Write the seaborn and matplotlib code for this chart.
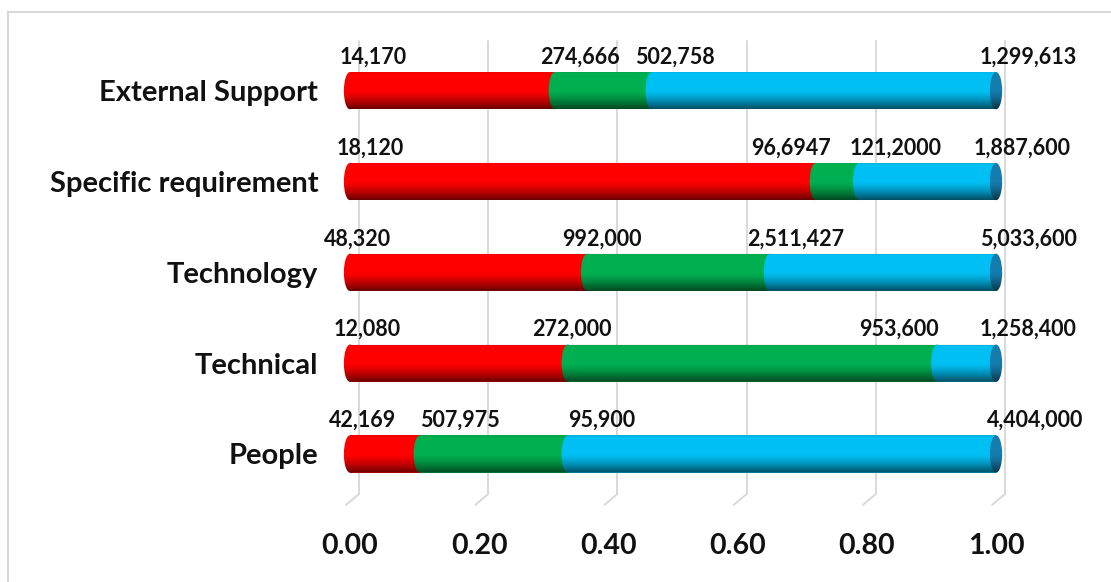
import numpy as np
import pandas as pd
import seaborn as sns
import matplotlib
matplotlib.use("Agg")
import matplotlib.pyplot as plt
from matplotlib.patches import Ellipse, PathPatch, Rectangle
from matplotlib.path import Path

# data (shares of each bar)
categories = ["External Support", "Specific requirement", "Technology", "Technical", "People"]
red_share = [0.317, 0.721, 0.367, 0.337, 0.108]
green_share = [0.150, 0.067, 0.283, 0.572, 0.229]
blue_share = [0.533, 0.212, 0.350, 0.091, 0.663]

labels_start = ["14,170", "18,120", "48,320", "12,080", "42,169"]
labels_mid1 = ["274,666", "96,6947", "992,000", "272,000", "507,975"]
labels_mid2 = ["502,758", "121,2000", "2,511,427", "953,600", "95,900"]
labels_end = ["1,299,613", "1,887,600", "5,033,600", "1,258,400", "4,404,000"]

ticks = [0.0, 0.2, 0.4, 0.6, 0.8, 1.0]

# label nudges from their segment boundary (x units)
label_nudge = [
    [0.036, 0.039, 0.036, 0.050],
    [0.031, -0.038, 0.057, 0.040],
    [0.012, 0.023, 0.040, 0.050],
    [0.026, 0.007, -0.059, 0.050],
    [0.019, 0.062, 0.052, 0.060],
]

RED = "#FF0000"
GREEN = "#00B050"
BLUE = "#00BFF3"
CAP = "#157DAE"
GRID = "#D9D9D9"

sns.set_theme(style="white")
plt.rcParams["font.family"] = ["Lato", "DejaVu Sans"]

df = pd.DataFrame({"category": categories, "red": red_share,
                   "green": green_share, "blue": blue_share})
df["red_green"] = df["red"] + df["green"]
df["total"] = df["red_green"] + df["blue"]

fig = plt.figure(figsize=(11.11, 5.82), dpi=100)
ax = fig.add_axes([0.2976, 0.1263, 0.6338, 0.8271])

bar_h = 0.41
for col, color in [("total", BLUE), ("red_green", GREEN), ("red", RED)]:
    sns.barplot(data=df, x=col, y="category", color=color, width=bar_h,
                saturation=1, orient="h", ax=ax, zorder=2, linewidth=0)

# 3D-ish gridlines on the back wall
for t in ticks:
    ax.plot([t + 0.014, t + 0.014], [-0.55, 4.44], color=GRID, lw=1.4, zorder=1)
    ax.plot([t + 0.014, t - 0.006], [4.44, 4.56], color=GRID, lw=1.4, zorder=1)

cap_w = 0.019
rows = np.arange(len(categories))
t = np.linspace(0, 1, 120)
alpha = np.clip((t - 0.5) / 0.5, 0, 1) ** 1.4 * 0.6 + np.clip(0.06 - t, 0, 1) * 2.0
shade = np.zeros((len(t), 2, 4))
shade[:, :, 3] = alpha[:, None]

for i, row in df.iterrows():
    starts = [0.0, row["red"], row["red_green"]]
    for s, color in zip(starts, [RED, GREEN, BLUE]):
        ax.add_patch(Ellipse((s, i), cap_w, bar_h, facecolor=color,
                             edgecolor="none", zorder=3))
    end = row["total"]
    ax.add_patch(Ellipse((end, i), cap_w, bar_h, facecolor=CAP,
                         edgecolor="none", zorder=3))

    # cylinder shading clipped to the bar outline
    ang = np.linspace(np.pi / 2, 3 * np.pi / 2, 40)
    left = np.column_stack([cap_w / 2 * np.cos(ang), i - bar_h / 2 * np.sin(ang)])
    ang2 = np.linspace(-np.pi / 2, np.pi / 2, 40)
    right = np.column_stack([end + cap_w / 2 * np.cos(ang2), i - bar_h / 2 * np.sin(ang2)])
    verts = np.vstack([left, right, left[:1]])
    clip = PathPatch(Path(verts), transform=ax.transData, facecolor="none",
                     edgecolor="none")
    ax.add_patch(clip)
    im = ax.imshow(shade, extent=[-cap_w, end + cap_w, i + bar_h / 2, i - bar_h / 2],
                   origin="upper", aspect="auto", zorder=4, interpolation="bilinear")
    im.set_clip_path(clip)

    bounds = [0.0, row["red"], row["red_green"], end]
    texts = [labels_start[i], labels_mid1[i], labels_mid2[i], labels_end[i]]
    for b, txt, dx in zip(bounds, texts, label_nudge[i]):
        ax.text(b + dx, i - 0.37, txt, ha="center", va="center",
                fontsize=15.5, fontweight="bold", color="#111111", zorder=5)

ax.set_xlim(-0.03, 1.06)
ax.set_ylim(4.6, -0.7)
ax.set_xticks(ticks)
ax.set_xticklabels([f"{v:.2f}" for v in ticks], fontsize=20.5, fontweight="bold")
ax.set_yticks(rows)
ax.set_yticklabels(categories, fontsize=21, fontweight="bold")
ax.tick_params(axis="x", length=0, pad=18, colors="#111111")
ax.tick_params(axis="y", length=0, pad=9, colors="#111111")
ax.set_xlabel("")
ax.set_ylabel("")
for sp in ax.spines.values():
    sp.set_visible(False)

fig.add_artist(Rectangle((8 / 1111, -0.02), 1.1, 1 - 12 / 582 + 0.02,
                         transform=fig.transFigure, facecolor="none",
                         edgecolor=GRID, lw=1.5))

fig.savefig("out.png", dpi=100)
